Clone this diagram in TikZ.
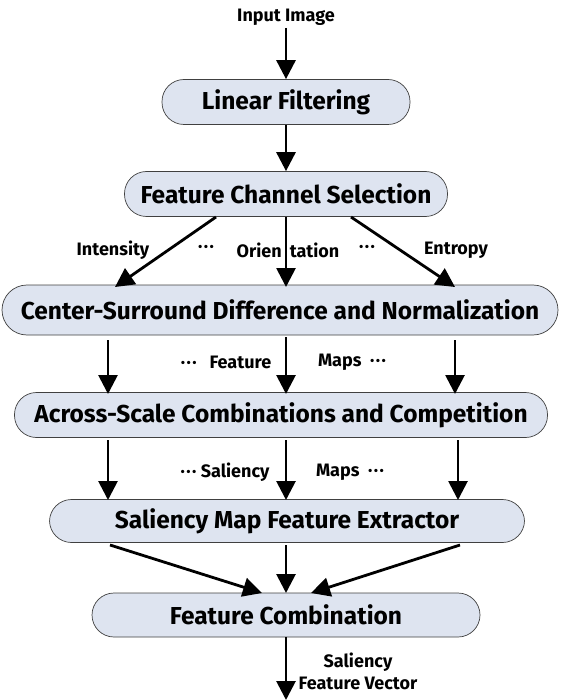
\documentclass[tikz,border=0pt]{standalone}
\usepackage{fontspec}
\setmainfont{Fira Sans}
\usetikzlibrary{arrows.meta}
\newcommand{\mdots}{\textperiodcentered\kern1.5pt\textperiodcentered\kern1.5pt\textperiodcentered}
\begin{document}
\begin{tikzpicture}[x=1pt,y=-1pt,
  stage/.style={draw=black!75, line width=0.7pt, fill=boxfill, rounded corners=22pt,
    minimum height=45pt, inner sep=0pt, font=\fontsize{24.5}{28}\selectfont\bfseries},
  lbl/.style={font=\fontsize{18}{22}\selectfont\bfseries, inner sep=1pt},
  flow/.style={line width=2.8pt, -{Triangle[length=19pt,width=19pt]}}]
\definecolor{boxfill}{HTML}{DEE4F0}
\useasboundingbox (0,0) rectangle (562,700);

% stages of the pipeline
\node[lbl] (in) at (286,17) {Input Image};
\node[stage, minimum width=248pt] (lin) at (286,102) {Linear Filtering};
\node[stage, minimum width=323pt] (sel) at (286,194) {Feature Channel Selection};
\node[stage, minimum width=556pt, minimum height=50pt, rounded corners=25pt] (csd) at (280,310) {Center-Surround Difference and Normalization};
\node[stage, minimum width=533pt] (acs) at (281,415) {Across-Scale Combinations and Competition};
\node[stage, minimum width=475pt, minimum height=43pt] (sme) at (287,521) {Saliency Map Feature Extractor};
\node[stage, minimum width=388pt, minimum height=44pt] (fc) at (286,615) {Feature Combination};

% anchor points for connectors
\coordinate (inB) at (286,28);
\coordinate (out) at (286,700);
\coordinate (selL) at (216,217);
\coordinate (selR) at (351,217);
\coordinate (csdL) at (115,287);
\coordinate (csdR) at (455,287);
\coordinate (csdM) at (286,287);
\coordinate (csdBL) at (108,340);
\coordinate (csdBM) at (286,337);
\coordinate (csdBR) at (455,340);
\coordinate (acsL) at (108,394);
\coordinate (acsM) at (286,394);
\coordinate (acsR) at (455,394);
\coordinate (acsBL) at (108,440);
\coordinate (acsBM) at (286,440);
\coordinate (acsBR) at (458,440);
\coordinate (smeL) at (108,500);
\coordinate (smeM) at (286,500);
\coordinate (smeR) at (458,500);
\coordinate (smeBL) at (110,545);
\coordinate (smeBM) at (286,545);
\coordinate (smeBR) at (460,545);
\coordinate (fcL) at (262,593);
\coordinate (fcM) at (286,593);
\coordinate (fcR) at (311,593);

% channel and map labels
\node[lbl] (t1) at (113,250) {Intensity};
\node[lbl] (t2) at (206,249) {\mdots};
\node[lbl] (t3) at (288,250) {Orien\hspace{8pt}tation};
\node[lbl] (t4) at (367,249) {\mdots};
\node[lbl] (t5) at (456,250) {Entropy};
\node[lbl] (t6) at (226,362) {\mdots\ \ \ Feature};
\node[lbl] (t7) at (352,362) {Maps\ \ \mdots};
\node[lbl] (t8) at (225,472) {\mdots\ Saliency};
\node[lbl] (t9) at (350,472) {Maps\ \ \mdots};
\node[lbl, align=center] (t10) at (358,671) {Saliency\\Feature Vector};

% connectors
\draw[flow] (inB) -- (lin.north);
\draw[flow] (lin.south) -- (sel.north);
\draw[flow] (selL) -- (csdL);
\draw[flow] (sel.south) -- (csdM);
\draw[flow] (selR) -- (csdR);
\draw[flow] (csdBL) -- (acsL);
\draw[flow] (csdBM) -- (acsM);
\draw[flow] (csdBR) -- (acsR);
\draw[flow] (acsBL) -- (smeL);
\draw[flow] (acsBM) -- (smeM);
\draw[flow] (acsBR) -- (smeR);
\draw[flow] (smeBL) -- (fcL);
\draw[flow] (smeBM) -- (fcM);
\draw[flow] (smeBR) -- (fcR);
\draw[flow] (fc.south) -- (out);
\end{tikzpicture}
\end{document}
